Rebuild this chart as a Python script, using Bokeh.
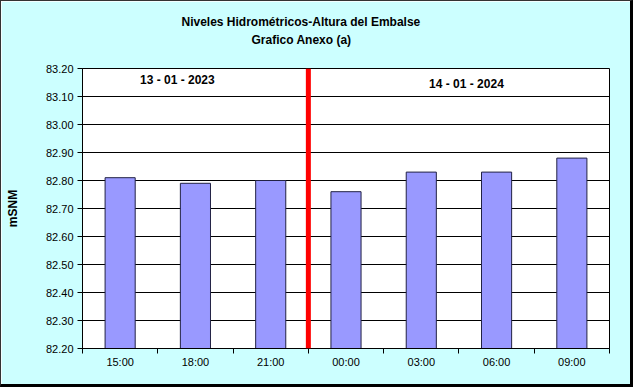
from bokeh.plotting import figure
from bokeh.models import ColumnDataSource, FixedTicker, Span, Label, Range1d, NumeralTickFormatter, Title
from bokeh.embed import file_html
from bokeh.resources import INLINE

categories = ["15:00", "18:00", "21:00", "00:00", "03:00", "06:00", "09:00"]
levels = [82.81, 82.79, 82.80, 82.76, 82.83, 82.83, 82.88]
y_ticks = [82.20, 82.30, 82.40, 82.50, 82.60, 82.70, 82.80, 82.90, 83.00, 83.10, 83.20]
day_change_index = 3
date_labels = ["13 - 01 - 2023", "14 - 01 - 2024"]
date_label_x = [1.26, 5.1]
date_label_y = [83.16, 83.146]
title_lines = ["Niveles Hidrométricos-Altura del Embalse", "Grafico Anexo (a)"]

xc = [i + 0.5 for i in range(len(categories))]
src = ColumnDataSource(dict(x=xc, top=levels))

p = figure(width=633, height=387, output_backend="svg", toolbar_location=None, title=None,
           x_range=Range1d(0, len(categories)), y_range=Range1d(82.20, 83.20),
           min_border_left=81, min_border_right=25, min_border_top=67, min_border_bottom=40)
p.background_fill_color = "white"
p.border_fill_color = "#CCFFFF"
p.outline_line_color = "black"
p.outline_line_width = 1
p.styles = {"border-left": "1px solid #333333", "border-top": "1px solid #333333",
            "border-right": "3px solid #000000", "border-bottom": "3px solid #000000"}

p.vbar(x="x", top="top", bottom=82.20, width=0.4, source=src,
       fill_color="#9999FF", line_color="#222244", line_width=1)

# axes
p.xaxis.ticker = FixedTicker(ticks=xc, minor_ticks=list(range(len(categories) + 1)))
p.xaxis.major_label_overrides = {x: c for x, c in zip(xc, categories)}
p.xaxis.major_tick_out = 0
p.xaxis.major_tick_in = 0
p.xaxis.minor_tick_out = 5
p.xaxis.minor_tick_in = 0
p.xaxis.minor_tick_line_color = "black"
p.xaxis.axis_line_color = "black"
p.xaxis.major_label_standoff = 2
p.xaxis.major_label_text_font = "Arial"
p.xaxis.major_label_text_font_size = "11px"
p.xaxis.major_label_text_color = "black"

p.yaxis.ticker = FixedTicker(ticks=y_ticks)
p.yaxis.formatter = NumeralTickFormatter(format="0.00")
p.yaxis.major_tick_out = 5
p.yaxis.major_tick_in = 0
p.yaxis.minor_tick_line_color = None
p.yaxis.axis_line_color = "black"
p.yaxis.major_label_text_font = "Arial"
p.yaxis.major_label_text_font_size = "11px"
p.yaxis.major_label_text_color = "black"
p.yaxis.major_label_standoff = 4
p.yaxis.axis_label = "mSNM"
p.yaxis.axis_label_text_font = "Arial"
p.yaxis.axis_label_text_font_size = "12px"
p.yaxis.axis_label_text_font_style = "bold"
p.yaxis.axis_label_text_color = "black"
p.yaxis.axis_label_standoff = 23

p.xgrid.grid_line_color = None
p.ygrid.grid_line_color = "black"
p.ygrid.grid_line_width = 1

p.add_layout(Span(location=day_change_index, dimension="height", line_color="#FF0000", line_width=5))

for t, x, y in zip(date_labels, date_label_x, date_label_y):
    p.add_layout(Label(x=x, y=y, text=t, text_align="center", text_baseline="middle",
                       text_font="Arial", text_font_size="12px", text_font_style="bold", text_color="black"))

# title: second line nearest to the frame, first line above it
for t, so, off in zip(reversed(title_lines), [44, -40], [169, 99]):
    p.add_layout(Title(text=t, align="left", offset=off, standoff=so,
                       text_font="Arial", text_font_size="12px", text_font_style="bold",
                       text_color="black"), "above")

open("out.html", "w").write(file_html(p, INLINE))
